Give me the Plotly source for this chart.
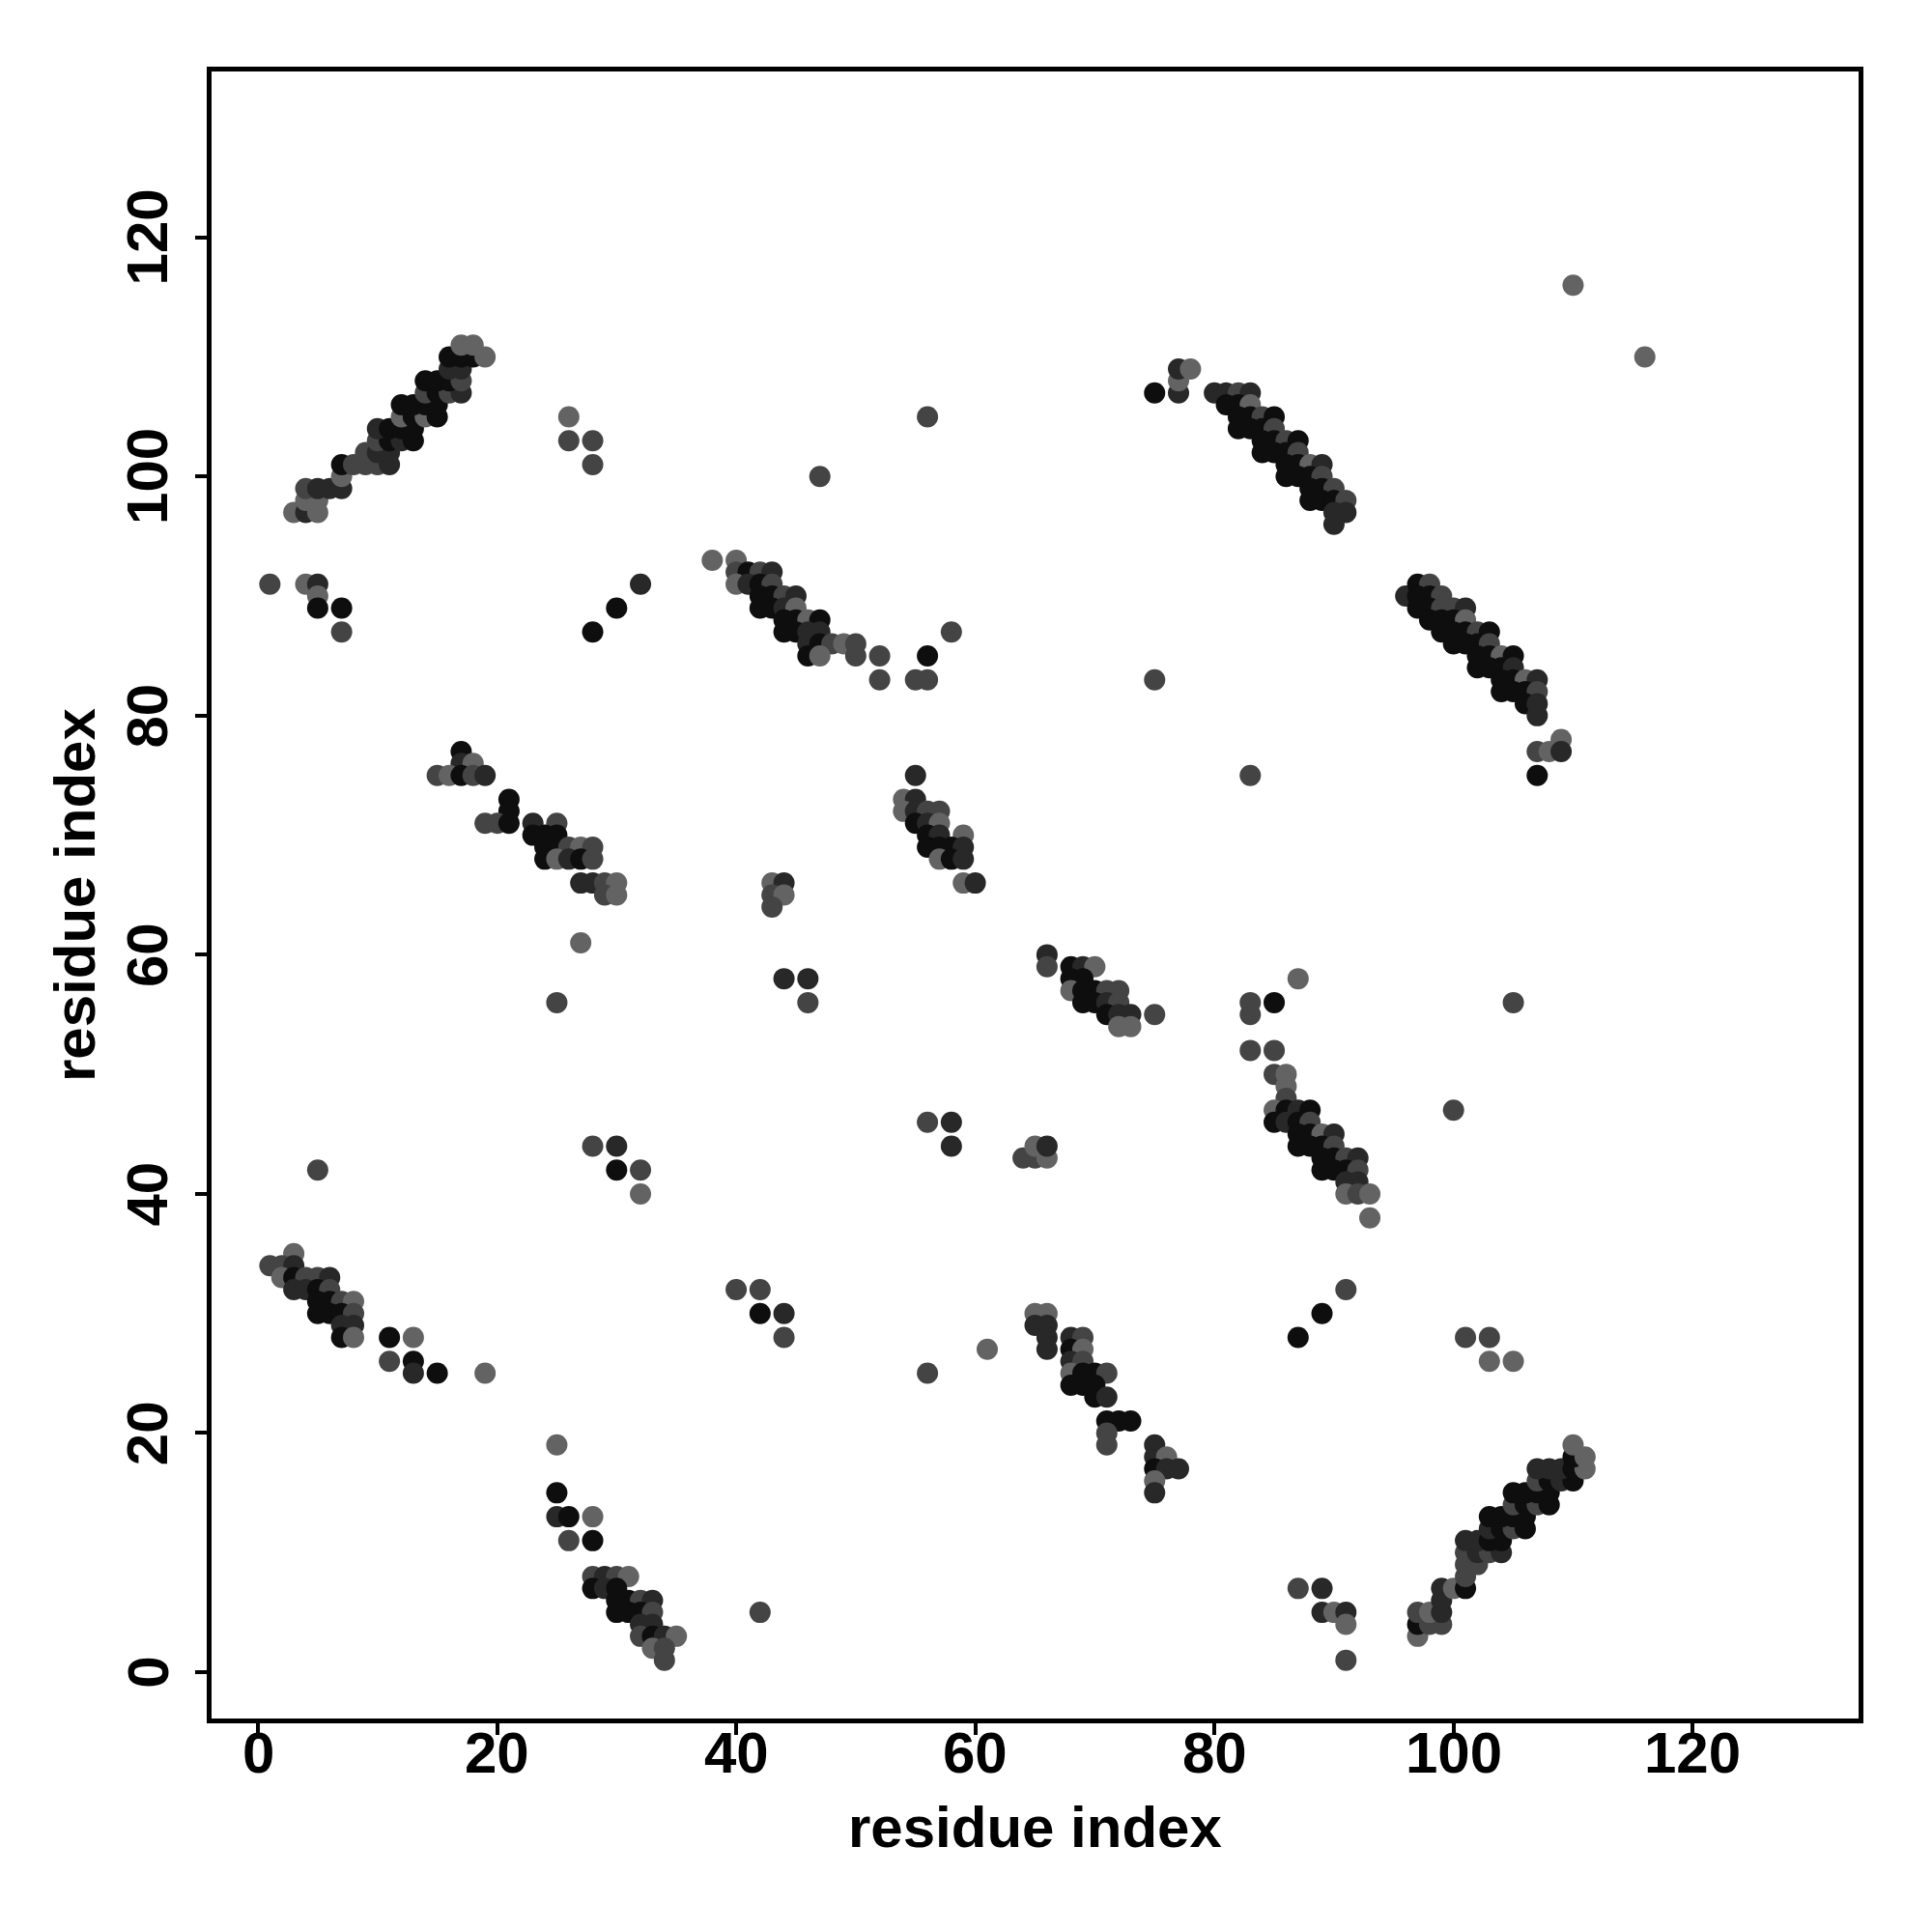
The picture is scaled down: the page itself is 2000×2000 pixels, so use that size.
import plotly.graph_objects as go

# contact points: (residue i, residue j, shade level 1=darkest .. 4=lightest)
helix_a = [
    (3, 97, 4), (4, 97, 2), (5, 97, 4), (4, 98, 4), (5, 98, 4),
    (4, 99, 3), (5, 99, 2), (6, 99, 2), (7, 99, 2), (7, 100, 4),
    (7, 101, 1), (8, 101, 3), (9, 101, 3), (10, 101, 3), (11, 101, 2),
    (9, 102, 3), (10, 102, 2), (11, 102, 2),
    (10, 103, 3), (11, 103, 1), (12, 103, 2), (13, 103, 1),
    (10, 104, 2), (11, 104, 1), (12, 104, 1), (13, 104, 1),
    (12, 105, 4), (13, 105, 1), (14, 105, 4), (15, 105, 1),
    (12, 106, 1), (13, 106, 1), (14, 106, 1), (15, 106, 1),
    (14, 107, 3), (15, 107, 1), (16, 107, 3), (17, 107, 2),
    (14, 108, 1), (15, 108, 1), (16, 108, 1), (17, 108, 3),
    (16, 109, 2), (17, 109, 2),
    (16, 110, 1), (17, 110, 1), (18, 110, 1), (19, 110, 4),
    (17, 111, 4), (18, 111, 4),
]
scatter_top = [
    (26, 105, 4), (26, 103, 3), (28, 103, 3), (28, 101, 3), (47, 100, 3), (56, 105, 3),
    (1, 91, 3), (4, 91, 4), (5, 91, 2), (5, 90, 4), (5, 89, 1), (7, 89, 1), (7, 87, 3),
    (32, 91, 2), (30, 89, 1), (28, 87, 1), (38, 93, 4),
    (75, 83, 3), (83, 75, 3), (110, 116, 4), (116, 110, 4),
]
sheet_c = [
    (40, 93, 4),
    (40, 92, 3), (41, 92, 1), (42, 92, 3), (43, 92, 2),
    (40, 91, 4), (41, 91, 2), (42, 91, 1), (43, 91, 3),
    (42, 90, 1), (43, 90, 1), (44, 90, 3), (45, 90, 2),
    (42, 89, 1), (43, 89, 1), (44, 89, 2), (45, 89, 4),
    (44, 88, 1), (45, 88, 1), (46, 88, 4), (47, 88, 1),
    (44, 87, 1), (45, 87, 1), (46, 87, 2), (47, 87, 2),
    (46, 86, 2), (47, 86, 1), (48, 86, 3), (49, 86, 4), (50, 86, 3),
    (46, 85, 1), (47, 85, 4), (50, 85, 3), (52, 85, 3), (56, 85, 1),
    (52, 83, 3), (55, 83, 3), (56, 83, 3), (58, 87, 3),
]
helix_d = [
    (75, 107, 1), (77, 107, 2), (77, 108, 4), (77, 109, 2), (78, 109, 4),
    (80, 107, 2), (81, 107, 2), (82, 107, 3), (83, 107, 2),
    (81, 106, 1), (82, 106, 1), (83, 106, 4),
    (82, 105, 1), (83, 105, 1), (84, 105, 3), (85, 105, 1),
    (82, 104, 1), (83, 104, 1), (84, 104, 1), (85, 104, 3),
    (84, 103, 1), (85, 103, 1), (86, 103, 3), (87, 103, 1),
    (84, 102, 1), (85, 102, 1), (86, 102, 1), (87, 102, 3),
    (86, 101, 1), (87, 101, 1), (88, 101, 4), (89, 101, 2),
    (86, 100, 1), (87, 100, 1), (88, 100, 1), (89, 100, 3),
    (88, 99, 1), (89, 99, 1), (90, 99, 3),
    (88, 98, 1), (89, 98, 1), (90, 98, 1), (91, 98, 3),
    (90, 97, 2), (91, 97, 2), (90, 96, 2),
]
helix_e = [
    (96, 90, 2), (97, 91, 1), (98, 91, 3),
    (97, 90, 1), (98, 90, 1), (99, 90, 3),
    (97, 89, 1), (98, 89, 1), (99, 89, 3), (100, 89, 3), (101, 89, 2),
    (98, 88, 1), (99, 88, 1), (100, 88, 1), (101, 88, 4),
    (99, 87, 1), (100, 87, 1), (101, 87, 1), (102, 87, 3), (103, 87, 1),
    (100, 86, 1), (101, 86, 1), (102, 86, 1), (103, 86, 3),
    (102, 85, 1), (103, 85, 1), (104, 85, 4), (105, 85, 1),
    (102, 84, 1), (103, 84, 1), (104, 84, 1), (105, 84, 2),
    (104, 83, 1), (105, 83, 1), (106, 83, 4), (107, 83, 2),
    (104, 82, 1), (105, 82, 1), (106, 82, 1), (107, 82, 3),
    (106, 81, 1), (107, 81, 2), (107, 80, 2),
    (109, 78, 4), (107, 77, 3), (108, 77, 4), (109, 77, 2), (107, 75, 1),
]
sheet_f = [
    (17, 77, 1), (17, 76, 2), (18, 76, 4),
    (15, 75, 3), (16, 75, 4), (17, 75, 1), (18, 75, 3), (19, 75, 2),
    (21, 73, 1), (21, 72, 1), (19, 71, 3), (20, 71, 3), (21, 71, 1),
    (23, 71, 2), (25, 71, 3),
    (23, 70, 1), (24, 70, 1), (25, 70, 1),
    (24, 69, 1), (25, 69, 1), (26, 69, 3), (27, 69, 4), (28, 69, 3),
    (24, 68, 1), (25, 68, 4), (26, 68, 2), (27, 68, 1), (28, 68, 3),
    (27, 66, 2), (28, 66, 2), (29, 66, 3), (30, 66, 4),
    (29, 65, 3), (30, 65, 4), (27, 61, 4),
]
sheet_g = [
    (55, 75, 2), (54, 73, 4), (55, 73, 2),
    (54, 72, 4), (55, 72, 2), (56, 72, 3), (57, 72, 3),
    (55, 71, 1), (56, 71, 2), (57, 71, 4),
    (56, 70, 1), (57, 70, 2), (59, 70, 4),
    (56, 69, 1), (57, 69, 1), (58, 69, 1), (59, 69, 2),
    (57, 68, 4), (58, 68, 1), (59, 68, 2),
    (59, 66, 4), (60, 66, 2),
]
scatter_mid = [
    (43, 66, 4), (44, 66, 2), (43, 65, 3), (44, 65, 4), (43, 64, 3),
    (44, 58, 2), (46, 58, 2), (46, 56, 3), (25, 56, 3),
    (87, 58, 4), (83, 56, 3), (85, 56, 1), (83, 55, 3), (105, 56, 3), (83, 52, 3), (85, 52, 3),
    (56, 46, 3), (58, 46, 2), (58, 44, 2), (64, 43, 3), (65, 43, 3), (66, 43, 4),
    (65, 44, 4), (66, 44, 2),
    (28, 44, 3), (30, 44, 2), (30, 42, 1), (32, 42, 3), (32, 40, 4), (5, 42, 3), (100, 47, 3),
]
sheet_h = [
    (66, 60, 2), (66, 59, 3), (68, 59, 1), (69, 59, 2), (70, 59, 4),
    (68, 58, 1), (69, 58, 1),
    (68, 57, 4), (69, 57, 1), (70, 57, 1), (71, 57, 3), (72, 57, 3),
    (69, 56, 1), (70, 56, 1), (71, 56, 2), (72, 56, 3),
    (71, 55, 1), (72, 55, 2), (73, 55, 2), (75, 55, 3),
    (72, 54, 4), (73, 54, 4),
]
sheet_i = [
    (85, 50, 3), (86, 50, 4), (86, 49, 4), (86, 48, 3),
    (85, 47, 4), (86, 47, 1), (87, 47, 2), (88, 47, 1),
    (85, 46, 1), (86, 46, 2), (87, 46, 1), (88, 46, 3),
    (87, 45, 1), (88, 45, 1), (89, 45, 4), (90, 45, 2),
    (87, 44, 1), (88, 44, 1), (89, 44, 1), (90, 44, 3),
    (89, 43, 1), (90, 43, 1), (91, 43, 3), (92, 43, 2),
    (89, 42, 1), (90, 42, 1), (91, 42, 1), (92, 42, 3),
    (91, 41, 2), (92, 41, 2),
    (91, 40, 4), (92, 40, 3), (93, 40, 4), (93, 38, 4),
]
helix_j = [
    (3, 35, 4), (1, 34, 3), (2, 34, 3), (3, 34, 2),
    (2, 33, 4), (3, 33, 1), (4, 33, 3), (5, 33, 3), (6, 33, 2),
    (3, 32, 2), (4, 32, 2), (5, 32, 1), (6, 32, 3),
    (5, 31, 1), (6, 31, 1), (7, 31, 3), (8, 31, 4),
    (5, 30, 1), (6, 30, 1), (7, 30, 1), (8, 30, 3),
    (7, 29, 2), (8, 29, 2), (7, 28, 1), (8, 28, 4),
    (11, 28, 1), (13, 28, 4), (11, 26, 3), (13, 26, 1), (13, 25, 2), (15, 25, 1), (19, 25, 4),
]
scatter_low = [
    (40, 32, 3), (42, 32, 3), (42, 30, 1), (44, 30, 2), (44, 28, 3), (61, 27, 4), (56, 25, 3),
    (87, 28, 1), (89, 30, 1), (91, 32, 3), (101, 28, 3), (103, 28, 3), (103, 26, 4), (105, 26, 4),
    (87, 7, 3), (89, 7, 2), (89, 5, 2), (90, 5, 4), (91, 5, 2), (91, 4, 4), (91, 1, 3), (42, 5, 3),
]
sheet_k = [
    (65, 30, 4), (66, 30, 4), (65, 29, 2), (66, 29, 2),
    (66, 28, 2), (68, 28, 2), (69, 28, 3),
    (66, 27, 2), (68, 27, 1), (69, 27, 4),
    (68, 26, 2), (69, 26, 3),
    (68, 25, 4), (69, 25, 1), (70, 25, 1), (71, 25, 3),
    (68, 24, 1), (69, 24, 1), (70, 24, 1),
    (70, 23, 1), (71, 23, 2),
    (71, 21, 1), (72, 21, 1), (73, 21, 1), (71, 20, 3), (71, 19, 3),
    (75, 19, 2), (75, 18, 2), (76, 18, 4),
    (75, 17, 1), (76, 17, 2), (77, 17, 2), (75, 16, 4), (75, 15, 2),
]
sheet_l = [
    (25, 19, 4), (25, 15, 1), (25, 13, 2), (26, 13, 1), (28, 13, 4), (26, 11, 3), (28, 11, 1),
    (28, 8, 3), (29, 8, 2), (30, 8, 3), (31, 8, 4),
    (28, 7, 1), (29, 7, 2), (30, 7, 1),
    (30, 6, 1), (31, 6, 1), (32, 6, 3), (33, 6, 2),
    (30, 5, 1), (31, 5, 1), (32, 5, 1), (33, 5, 3),
    (32, 4, 2), (33, 4, 2),
    (32, 3, 3), (33, 3, 1), (34, 3, 2), (35, 3, 4),
    (33, 2, 4), (34, 2, 3), (34, 1, 3),
]
helix_m = [
    (97, 3, 4), (97, 4, 1), (98, 4, 3), (99, 4, 3),
    (97, 5, 3), (98, 5, 4), (99, 5, 2), (99, 6, 2),
    (99, 7, 2), (100, 7, 4), (101, 7, 1), (101, 8, 3),
    (101, 9, 3), (102, 9, 3),
    (101, 10, 3), (102, 10, 2), (103, 10, 3), (104, 10, 2),
    (101, 11, 2), (102, 11, 2), (103, 11, 1), (104, 11, 1),
    (103, 12, 2), (104, 12, 1), (105, 12, 3), (106, 12, 1),
    (103, 13, 1), (104, 13, 1), (105, 13, 1), (106, 13, 1),
    (105, 14, 3), (106, 14, 1), (107, 14, 3), (108, 14, 1),
    (105, 15, 1), (106, 15, 1), (107, 15, 1), (108, 15, 1),
    (107, 16, 3), (108, 16, 1), (109, 16, 2), (110, 16, 1),
    (107, 17, 2), (108, 17, 2), (109, 17, 2), (110, 17, 1), (111, 17, 4),
    (110, 18, 1), (111, 18, 4), (110, 19, 4),
]

shade_colors = {1: "#0e0e0e", 2: "#282828", 3: "#444444", 4: "#636363"}
tick_values = [0, 20, 40, 60, 80, 100, 120]
tick_labels = ["0", "20", "40", "60", "80", "100", "120"]
axis_range = [-3.878, 133.878]
axis_title = "residue index"

clusters = [helix_a, scatter_top, sheet_c, helix_d, helix_e, sheet_f, sheet_g, scatter_mid,
            sheet_h, sheet_i, helix_j, scatter_low, sheet_k, sheet_l, helix_m]
points = [p for c in clusters for p in c]
xs = [p[0] for p in points]
ys = [p[1] for p in points]
cols = [shade_colors[p[2]] for p in points]

font_family = "Liberation Sans, Arial, Helvetica, sans-serif"
label_font = dict(family=font_family, size=60, color="black")

fig = go.Figure(go.Scatter(
    x=xs, y=ys, mode="markers",
    marker=dict(size=22, color=cols, line=dict(width=0)),
    showlegend=False, hoverinfo="skip",
))

axis_common = dict(
    range=axis_range, tickvals=tick_values, showgrid=False, zeroline=False,
    showline=True, linewidth=5, linecolor="black", mirror=True,
    ticks="outside", ticklen=12, tickwidth=4, tickcolor="black",
    showticklabels=False,
)
fig.update_xaxes(**axis_common)
fig.update_yaxes(**axis_common)

annotations = []
for v, t in zip(tick_values, tick_labels):
    annotations.append(dict(text=f"<b>{t}</b>", xref="x", yref="paper", x=v, y=-0.0208,
                            xanchor="center", yanchor="middle", showarrow=False, font=label_font))
    annotations.append(dict(text=f"<b>{t}</b>", xref="paper", yref="y", x=-0.0389, y=v,
                            xanchor="center", yanchor="middle", showarrow=False,
                            textangle=-90, font=label_font))
annotations.append(dict(text=f"<b>{axis_title}</b>", xref="paper", yref="paper", x=0.5, y=-0.066,
                        xanchor="center", yanchor="middle", showarrow=False, font=label_font))
annotations.append(dict(text=f"<b>{axis_title}</b>", xref="paper", yref="paper", x=-0.083, y=0.5,
                        xanchor="center", yanchor="middle", showarrow=False, textangle=-90,
                        font=label_font))

fig.update_layout(
    width=2000, height=2000,
    margin=dict(l=211, r=84, t=66, b=229),
    plot_bgcolor="white", paper_bgcolor="white",
    annotations=annotations,
)

fig.write_html("out.html")
